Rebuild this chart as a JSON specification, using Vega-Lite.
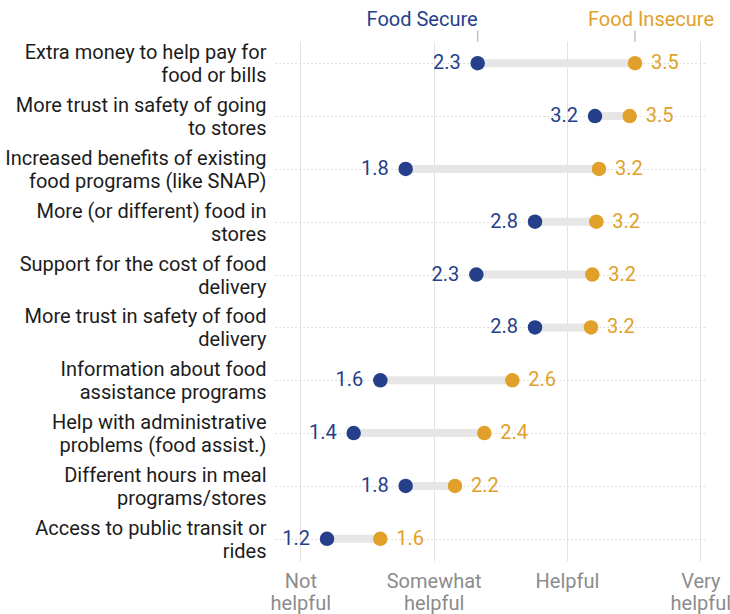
{
  "$schema": "https://vega.github.io/schema/vega-lite/v6.json",
  "width": 432,
  "height": 520,
  "autosize": {"type": "none"},
  "padding": {"left": 275, "top": 41, "right": 23, "bottom": 53},
  "config": {
    "font": "Roboto",
    "view": {"stroke": null},
    "axis": {"labelFont": "Roboto", "domain": false, "ticks": false, "title": null}
  },
  "data": {
    "values": [
      {"item": "Extra money to help pay for|food or bills", "secure": 2.33, "insecure": 3.51},
      {"item": "More trust in safety of going|to stores", "secure": 3.21, "insecure": 3.47},
      {"item": "Increased benefits of existing|food programs (like SNAP)", "secure": 1.79, "insecure": 3.24},
      {"item": "More (or different) food in|stores", "secure": 2.76, "insecure": 3.22},
      {"item": "Support for the cost of food|delivery", "secure": 2.32, "insecure": 3.19},
      {"item": "More trust in safety of food|delivery", "secure": 2.76, "insecure": 3.18},
      {"item": "Information about food|assistance programs", "secure": 1.6, "insecure": 2.59},
      {"item": "Help with administrative|problems (food assist.)", "secure": 1.4, "insecure": 2.38},
      {"item": "Different hours in meal|programs/stores", "secure": 1.79, "insecure": 2.16},
      {"item": "Access to public transit or|rides", "secure": 1.2, "insecure": 1.6}
    ]
  },
  "encoding": {
    "y": {
      "field": "item",
      "type": "nominal",
      "sort": null,
      "scale": {"type": "point", "padding": 0.42},
      "axis": {
        "labelExpr": "split(datum.label, '|')",
        "labelFontSize": 20,
        "labelLineHeight": 23,
        "labelOffset": -10.5,
        "labelColor": "#1c1c1c",
        "labelPadding": 9,
        "labelLimit": 400,
        "grid": true,
        "gridColor": "#d6d6d6",
        "gridDash": [1.5, 2.5],
        "gridWidth": 1
      }
    }
  },
  "layer": [
    {
      "mark": {"type": "rule", "strokeWidth": 8, "color": "#e6e6e6"},
      "encoding": {
        "x": {
          "field": "secure",
          "type": "quantitative",
          "scale": {"domain": [0.81, 4.05], "nice": false, "zero": false},
          "axis": {
            "values": [1, 2, 3, 4],
            "labelExpr": "datum.value == 1 ? ['Not', 'helpful'] : datum.value == 2 ? ['Somewhat', 'helpful'] : datum.value == 3 ? ['Helpful'] : ['Very', 'helpful']",
            "labelFontSize": 20,
            "labelLineHeight": 22,
            "labelColor": "#8c8c8c",
            "labelPadding": 10,
            "labelFlush": false,
            "labelOverlap": false,
            "grid": true,
            "gridColor": "#e3e3e3",
            "gridWidth": 1
          }
        },
        "x2": {"field": "insecure"}
      }
    },
    {
      "mark": {"type": "circle", "size": 210, "opacity": 1, "color": "#263f8a"},
      "encoding": {"x": {"field": "secure", "type": "quantitative"}}
    },
    {
      "mark": {"type": "circle", "size": 210, "opacity": 1, "color": "#e1a02a"},
      "encoding": {"x": {"field": "insecure", "type": "quantitative"}}
    },
    {
      "mark": {"type": "text", "align": "right", "baseline": "middle", "dx": -17, "fontSize": 20, "color": "#263f8a"},
      "encoding": {
        "x": {"field": "secure", "type": "quantitative"},
        "text": {"field": "secure", "type": "quantitative", "format": ".1f"}
      }
    },
    {
      "mark": {"type": "text", "align": "left", "baseline": "middle", "dx": 16, "fontSize": 20, "color": "#e1a02a"},
      "encoding": {
        "x": {"field": "insecure", "type": "quantitative"},
        "text": {"field": "insecure", "type": "quantitative", "format": ".1f"}
      }
    },
    {
      "transform": [{"filter": "datum.item == 'Extra money to help pay for|food or bills'"}],
      "layer": [
        {
          "mark": {"type": "tick", "orient": "vertical", "size": 11, "thickness": 1.5, "color": "#aaaaaa", "yOffset": -27},
          "encoding": {"x": {"field": "secure", "type": "quantitative"}}
        },
        {
          "mark": {"type": "tick", "orient": "vertical", "size": 11, "thickness": 1.5, "color": "#aaaaaa", "yOffset": -27},
          "encoding": {"x": {"field": "insecure", "type": "quantitative"}}
        },
        {
          "mark": {"type": "text", "align": "right", "baseline": "middle", "dy": -43, "fontSize": 20, "color": "#263f8a"},
          "encoding": {
            "x": {"field": "secure", "type": "quantitative"},
            "text": {"value": "Food Secure"}
          }
        },
        {
          "mark": {"type": "text", "align": "center", "baseline": "middle", "dx": 16, "dy": -43, "fontSize": 20, "color": "#e1a02a"},
          "encoding": {
            "x": {"field": "insecure", "type": "quantitative"},
            "text": {"value": "Food Insecure"}
          }
        }
      ]
    }
  ]
}
